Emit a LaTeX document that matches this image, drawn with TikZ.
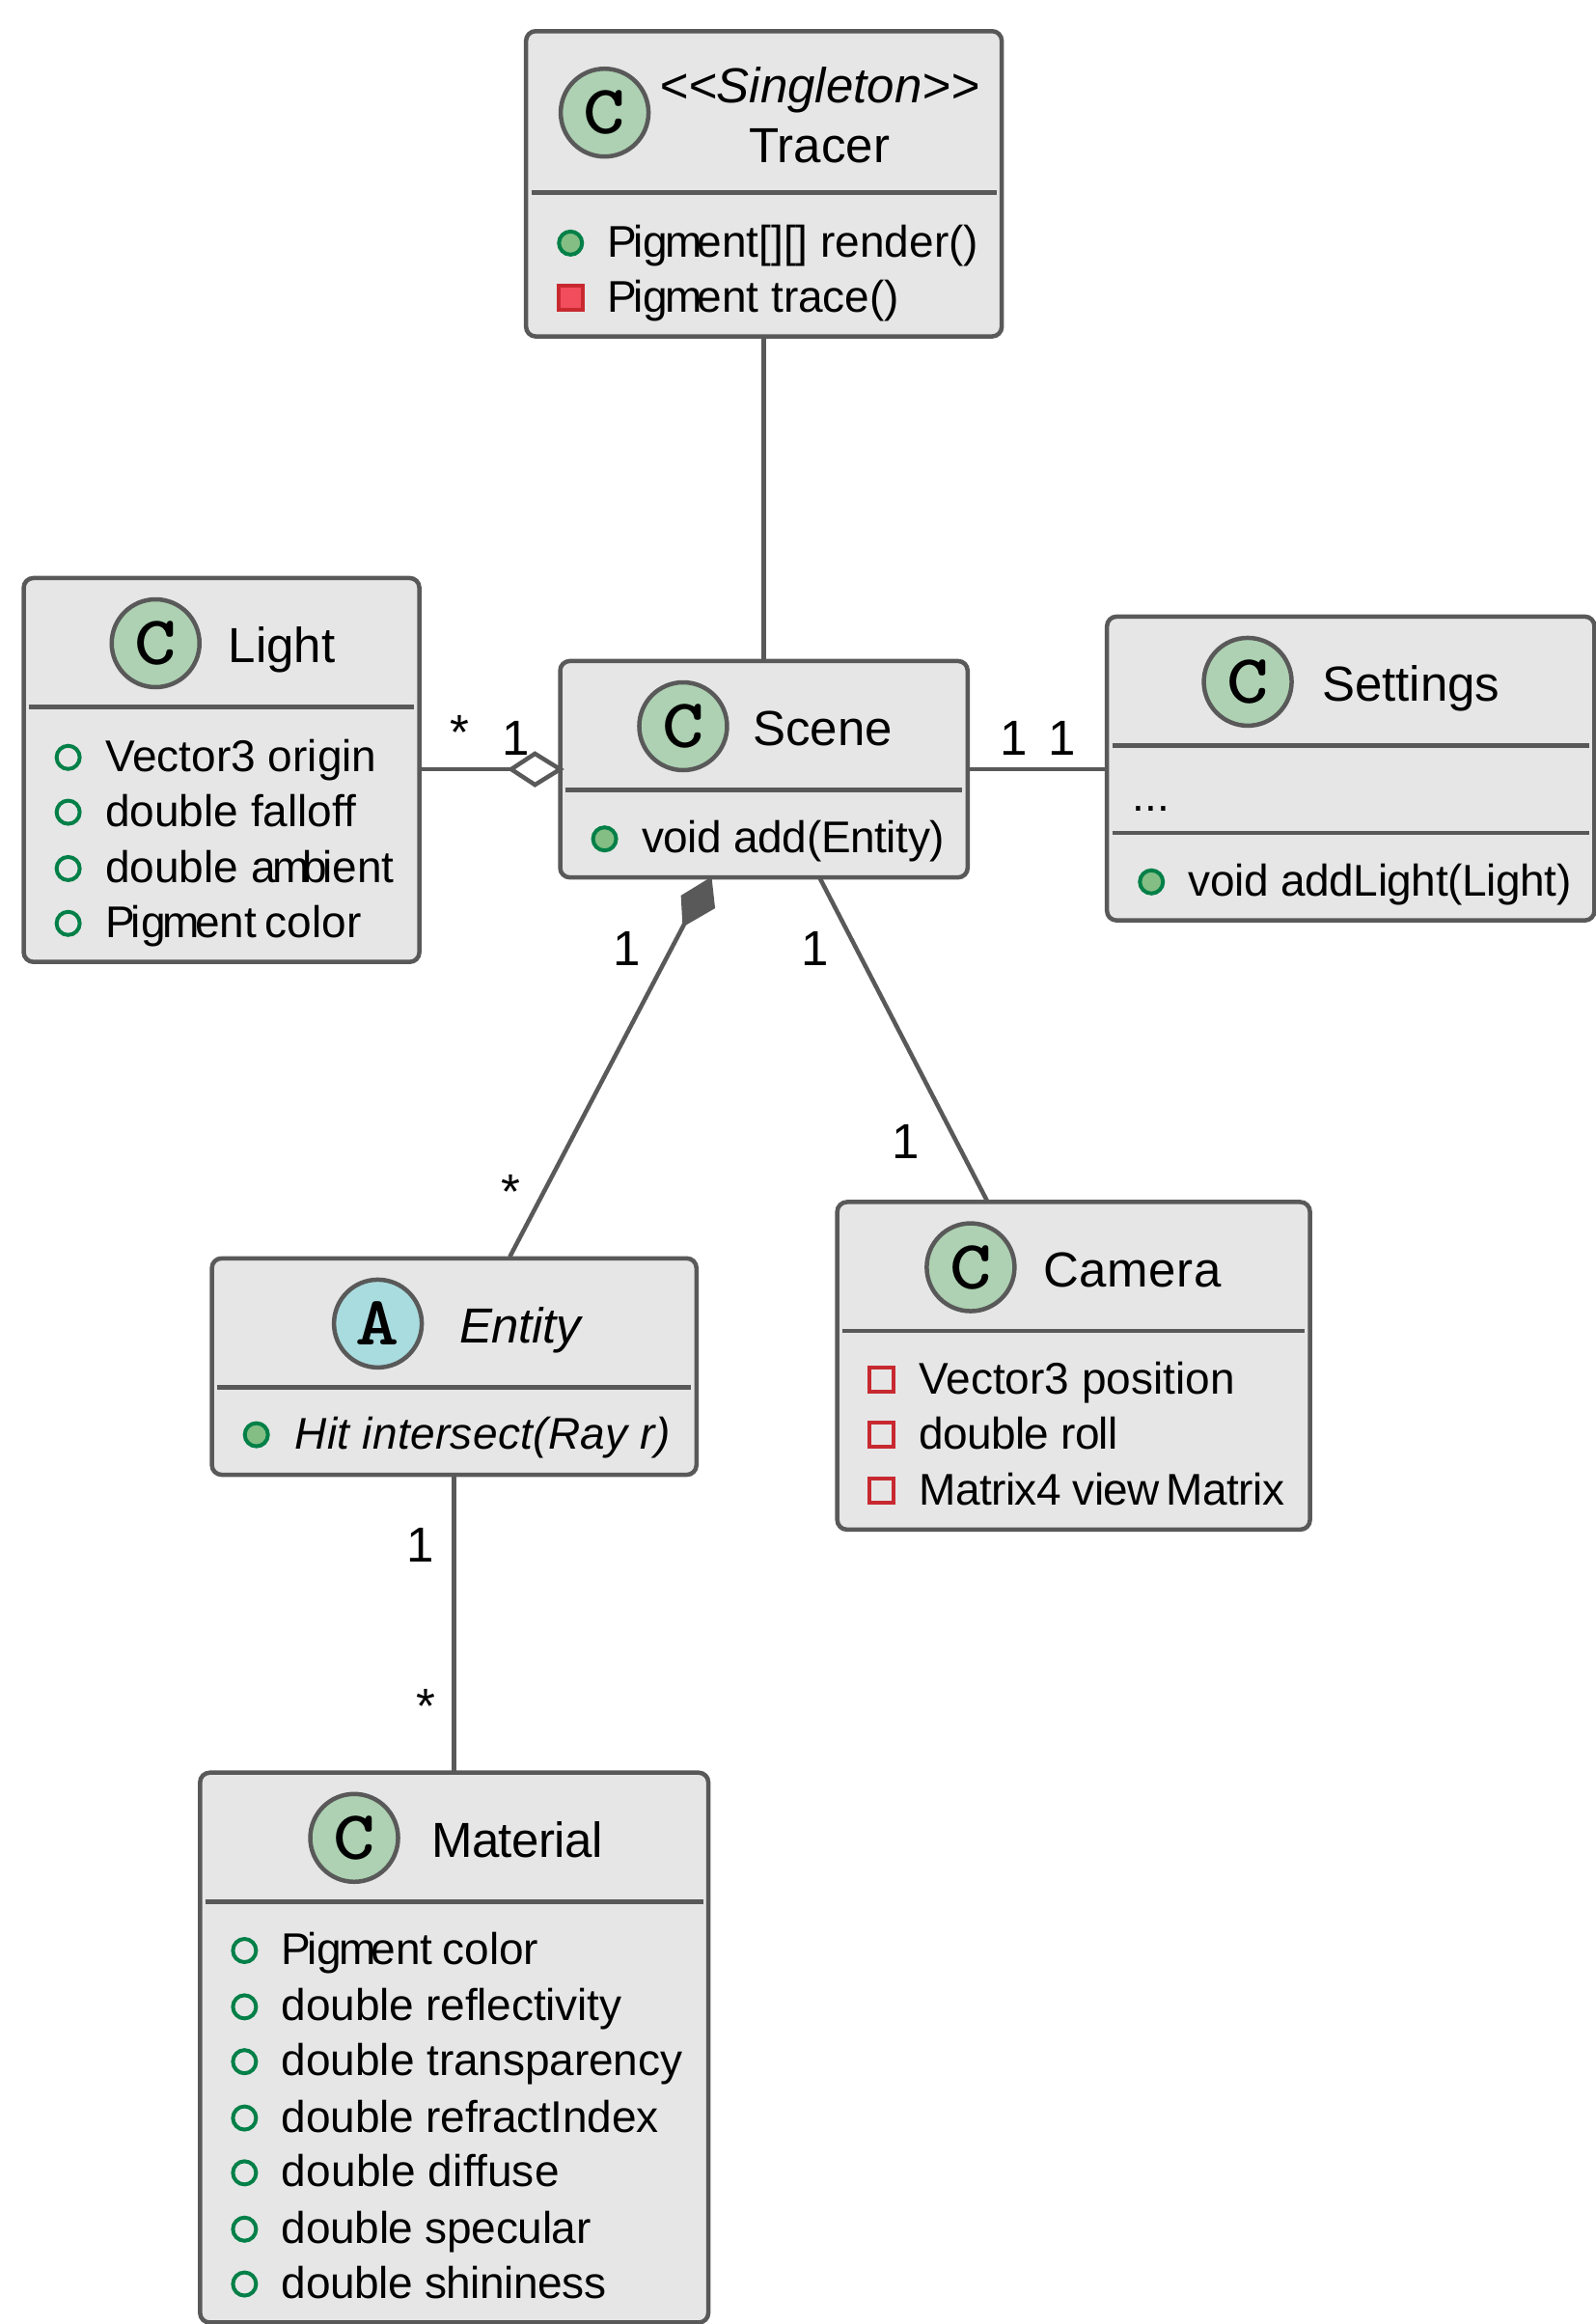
\documentclass[tikz,border=0pt]{standalone}
\usepackage{fontspec}
\setmainfont{Liberation Sans}
\definecolor{boxfill}{HTML}{E6E6E6}
\definecolor{boxline}{HTML}{595959}
\definecolor{spotgreen}{HTML}{ADD1B2}
\definecolor{spotblue}{HTML}{A9DCDF}
\definecolor{publine}{HTML}{038048}
\definecolor{pubfill}{HTML}{84BE84}
\definecolor{privline}{HTML}{C82930}
\definecolor{privfill}{HTML}{F24D5C}
\newcommand{\bigtxt}{\fontsize{51}{51}\selectfont}
\newcommand{\smtxt}{\fontsize{46}{46}\selectfont}
\tikzset{
  umlbox/.style={draw=boxline,fill=boxfill,line width=4.5pt,rounded corners=10pt,anchor=north west,inner sep=0pt,outer sep=0pt},
  divider/.style={draw=boxline,line width=4.5pt},
  conn/.style={draw=boxline,line width=4.5pt},
  spot/.style={circle,draw=boxline,line width=4.5pt,minimum size=91pt,inner sep=0pt,font=\ttfamily\bfseries\fontsize{72}{72}\selectfont\addfontfeature{FakeBold=2}},
  txt/.style={anchor=base west,inner sep=0pt,font=\smtxt},
  ttl/.style={anchor=base west,inner sep=0pt,font=\bigtxt},
  cttl/.style={anchor=base,inner sep=0pt,font=\bigtxt},
  mult/.style={anchor=center,inner sep=0pt,font=\bigtxt},
  pubm/.style={circle,draw=publine,fill=pubfill,line width=4pt,minimum size=24pt,inner sep=0pt},
  puba/.style={circle,draw=publine,fill=none,line width=4pt,minimum size=24pt,inner sep=0pt},
  privm/.style={rectangle,draw=privline,fill=privfill,line width=4pt,minimum size=25pt,inner sep=0pt},
  priva/.style={rectangle,draw=privline,fill=none,line width=4pt,minimum size=25pt,inner sep=0pt},
}
\newcommand{\umlnode}[5]{%
  \node[umlbox,minimum width={(#4-#2)*1.5357pt},minimum height={(#5-#3)*1.5357pt}] (#1) at (#2,#3) {};}
\newcommand{\sep}[3]{\draw[divider] (#2+3.5,#1) -- (#3-3.5,#1);}
\newcommand{\row}[6]{%
  \node[#2] (#1-i) at (#3,#5) {};
  \node[txt] (#1-t) at (#4,#5+9.5) {#6};}
\newcommand{\Pgm}{P\kern-4pt ig\kern-3pt m\kern-5pt ent}
\newcommand{\lsp}[1]{\addfontfeature{LetterSpace=#1}}
\newcommand{\spotC}{\scalebox{1.15}[1]{C}}
\newcommand{\spotA}{\scalebox{1.2}[1]{A}}
\begin{document}
\begin{tikzpicture}[x=1.5357pt,y=-1.5357pt]
\useasboundingbox (0,0) rectangle (1077,1568);
% boxes
\umlnode{tracer}{355}{21}{676}{227}
\umlnode{light}{16}{390}{283}{649}
\umlnode{scene}{378}{446}{653}{592}
\umlnode{settings}{747}{416}{1076}{621}
\umlnode{entity}{143}{849}{470}{995}
\umlnode{camera}{565}{811}{884}{1032}
\umlnode{material}{135}{1196}{478}{1567}
% dividers
\sep{130}{355}{676}
\sep{477}{16}{283}
\sep{533}{378}{653}
\sep{503}{747}{1076}
\sep{562}{747}{1076}
\sep{936}{143}{470}
\sep{898}{565}{884}
\sep{1283}{135}{478}
% spots
\node[spot,fill=spotgreen] (s-tracer) at (408,76) {\spotC};
\node[spot,fill=spotgreen] (s-light) at (105,434) {\spotC};
\node[spot,fill=spotgreen] (s-scene) at (461,490) {\spotC};
\node[spot,fill=spotgreen] (s-settings) at (842,460) {\spotC};
\node[spot,fill=spotblue] (s-entity) at (255,893) {\spotA};
\node[spot,fill=spotgreen] (s-camera) at (655,855) {\spotC};
\node[spot,fill=spotgreen] (s-material) at (239,1240) {\spotC};
% titles
\node[cttl,font=\itshape\bigtxt] (t-stereo) at (553,69.5) {<{}<Singleton>{}>};
\node[cttl] (t-tracer) at (553,110) {Tracer};
\node[ttl] (t-light) at (154,447) {Light};
\node[ttl] (t-scene) at (508,503) {Scene};
\node[ttl] (t-settings) at (892,473) {Settings};
\node[ttl,font=\itshape\bigtxt] (t-entity) at (310,906) {\lsp{-0.8}Entity};
\node[ttl] (t-camera) at (704,868) {\lsp{1.2}Camera};
\node[ttl] (t-material) at (291,1253) {\lsp{-1}Material};
% members
\row{tr1}{pubm}{385}{410}{164}{\Pgm[][] render()}
\row{tr2}{privm}{385}{410}{201}{\Pgm{} trace()}
\row{li1}{puba}{46}{71}{511}{Vector3 origin}
\row{li2}{puba}{46}{71}{548}{double falloff}
\row{li3}{puba}{46}{71}{586}{double a\kern-3pt m\kern-8pt b\kern-4pt ient}
\row{li4}{puba}{46}{71}{623}{\Pgm{}\kern-4pt{} color}
\row{sc1}{pubm}{408}{433}{566}{\lsp{-0.9}void add(Entity)}
\node[txt] (se0) at (764,547) {...};
\row{se1}{pubm}{777}{802}{595}{\lsp{-0.9}void addLight(Light)}
\node[pubm] (en1-i) at (173,968) {};
\node[txt,font=\itshape\smtxt] (en1-t) at (199,978) {\lsp{0.7}Hit intersect(Ray r)};
\row{ca1}{priva}{595}{620}{931}{Vector3 position}
\row{ca2}{priva}{595}{620}{968}{\lsp{-1.4}double roll}
\row{ca3}{priva}{595}{620}{1006}{\lsp{-1.3}Matrix4 view\kern7pt Matrix}
\row{ma1}{puba}{165}{190}{1316}{\Pgm{}\kern-3pt{} color}
\row{ma2}{puba}{165}{190}{1354}{\lsp{-0.4}double reflectivity}
\row{ma3}{puba}{165}{190}{1391}{\lsp{-0.2}double transparency}
\row{ma4}{puba}{165}{190}{1429}{\lsp{-0.4}double refractIndex}
\row{ma5}{puba}{165}{190}{1466}{\lsp{0.4}double diffuse}
\row{ma6}{puba}{165}{190}{1504}{\lsp{-0.7}double specular}
\row{ma7}{puba}{165}{190}{1541}{\lsp{-1}double shininess}
% connector end points
\coordinate (a1) at (515.5,227);
\coordinate (a2) at (515.5,446);
\coordinate (b1) at (283,519);
\coordinate (b2) at (345,519);
\coordinate (b3) at (361,508.5);
\coordinate (b4) at (378,519);
\coordinate (b5) at (361,529.5);
\coordinate (c1) at (653,519);
\coordinate (c2) at (747,519);
\coordinate (d1) at (479,594);
\coordinate (d2) at (461,605);
\coordinate (d3) at (462,623);
\coordinate (d4) at (481,612);
\coordinate (d5) at (344,848);
\coordinate (e1) at (553,592);
\coordinate (e2) at (666,810);
\coordinate (f1) at (306.5,995);
\coordinate (f2) at (306.5,1196);
% connectors
\draw[conn] (a1) -- (a2);
\draw[conn] (b1) -- (b2);
\draw[conn,fill=white,line join=miter] (b2) -- (b3) -- (b4) -- (b5) -- cycle;
\draw[conn] (c1) -- (c2);
\draw[conn,fill=boxline,line join=miter] (d1) -- (d2) -- (d3) -- (d4) -- cycle;
\draw[conn] (d3) -- (d5);
\draw[conn] (e1) -- (e2);
\draw[conn] (f1) -- (f2);
% multiplicities
\node[mult] (m1) at (310.5,494) {*};
\node[mult] (m2) at (348,498) {1};
\node[mult] (m3) at (684,498) {1};
\node[mult] (m4) at (717,498) {1};
\node[mult] (m5) at (423,640) {1};
\node[mult] (m6) at (550,640) {1};
\node[mult] (m7) at (344.5,804) {*};
\node[mult] (m8) at (611.5,770.5) {1};
\node[mult] (m9) at (283.5,1042.5) {1};
\node[mult] (m10) at (287.5,1151) {*};
\end{tikzpicture}
\end{document}
